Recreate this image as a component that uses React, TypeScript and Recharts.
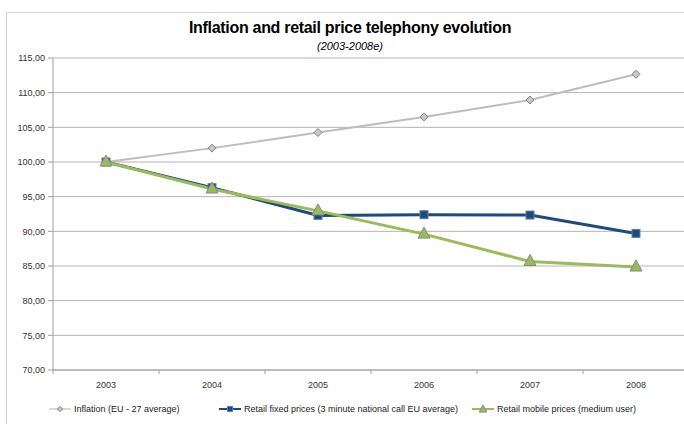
import React from 'react';
import { LineChart, Line, XAxis, YAxis, CartesianGrid } from 'recharts';

const YEARS = ['2003', '2004', '2005', '2006', '2007', '2008'];
const INFLATION = [100.0, 102.0, 104.25, 106.5, 108.95, 112.65];
const FIXED = [100.0, 96.3, 92.3, 92.4, 92.35, 89.7];
const MOBILE = [100.0, 96.1, 92.95, 89.6, 85.65, 84.85];
const Y_TICKS = [70, 75, 80, 85, 90, 95, 100, 105, 110, 115];

const TITLE = 'Inflation and retail price telephony evolution';
const SUBTITLE = '(2003-2008e)';

const SERIES = [
    { key: 'inflation', name: 'Inflation (EU - 27 average)', color: '#bdbdbd', width: 2, marker: 'diamond' },
    { key: 'fixed', name: 'Retail fixed prices (3 minute national call EU average)', color: '#1f4a7c', width: 3, marker: 'square' },
    { key: 'mobile', name: 'Retail mobile prices (medium user)', color: '#9bbb59', width: 3, marker: 'triangle' },
];

const data = YEARS.map((year, i) => ({
    year,
    inflation: INFLATION[i],
    fixed: FIXED[i],
    mobile: MOBILE[i],
}));

const FONT = '"Liberation Sans Narrow", "Liberation Sans", Arial, sans-serif';
const HALF_BAND = 53;

function Marker({ type, cx, cy, r = 1 }: { type: string; cx: number; cy: number; r?: number }) {
    if (type === 'diamond') {
        const d = 4 * r;
        return <polygon points={`${cx},${cy - d} ${cx + d},${cy} ${cx},${cy + d} ${cx - d},${cy}`} fill="#c8c8c8" stroke="#7f7f7f" strokeWidth={1} />;
    }
    if (type === 'square') {
        const d = 4 * r;
        return <rect x={cx - d} y={cy - d} width={2 * d} height={2 * d} fill="#1f4a7c" stroke="#5f7fa8" strokeWidth={1} />;
    }
    return <polygon points={`${cx},${cy - 7 * r} ${cx + 6 * r},${cy + 4 * r} ${cx - 6 * r},${cy + 4 * r}`} fill="#9bbb59" stroke="#8a8a8a" strokeWidth={1} />;
}

function makeDot(type: string) {
    return (props: any) => {
        if (props.cx == null || props.cy == null) return <g key={props.index} />;
        return <Marker key={props.index} type={type} cx={props.cx} cy={props.cy} />;
    };
}

function XTick(props: any) {
    const { x, y, payload } = props;
    return (
        <g>
            <line x1={x - HALF_BAND} y1={y - 8} x2={x - HALF_BAND} y2={y - 4} stroke="#a0a0a0" />
            <text x={x} y={y + 10} textAnchor="middle" fontSize={9} fill="#333" fontFamily={FONT}>
                {payload.value}
            </text>
        </g>
    );
}

function LegendIcon({ s }: { s: typeof SERIES[number] }) {
    return (
        <svg width={24} height={10} style={{ marginRight: 2 }}>
            <line x1={1} y1={5} x2={23} y2={5} stroke={s.color} strokeWidth={s.width === 3 ? 2 : 1.2} />
            <Marker type={s.marker} cx={12} cy={s.marker === 'triangle' ? 5.5 : 5} r={0.65} />
        </svg>
    );
}

export default function App() {
    const legendLeft = [42, 212, 465];
    return (
        <div style={{ position: 'fixed', left: 0, top: 0, width: 684, height: 424, overflow: 'hidden', background: '#fff' }}>
            <div
                style={{
                    position: 'absolute', left: 6, top: 12, width: 700, height: 430,
                    border: '1px solid #d4d4d4', boxSizing: 'border-box',
                }}
            />
            <div style={{ position: 'absolute', left: 0, top: 19, width: 700, textAlign: 'center', fontFamily: FONT, fontWeight: 'bold', fontSize: 16, color: '#000', letterSpacing: -0.3 }}>
                {TITLE}
            </div>
            <div style={{ position: 'absolute', left: 0, top: 40, width: 700, textAlign: 'center', fontFamily: FONT, fontStyle: 'italic', fontSize: 11, color: '#000' }}>
                {SUBTITLE}
            </div>
            <div style={{ position: 'absolute', left: 6, top: 12 }}>
                <LineChart width={700} height={400} data={data} margin={{ top: 46, right: 17, bottom: 12, left: 0 }}>
                    <CartesianGrid vertical={false} stroke="#b4b4b4" />
                    <XAxis
                        dataKey="year"
                        stroke="#a0a0a0"
                        tickLine={false}
                        tick={<XTick />}
                        height={30}
                        interval={0}
                        padding={{ left: HALF_BAND, right: HALF_BAND }}
                    />
                    <YAxis
                        domain={[70, 115]}
                        ticks={Y_TICKS}
                        tickFormatter={(v: number) => v.toFixed(2).replace('.', ',')}
                        stroke="#a0a0a0"
                        tickSize={5}
                        tickMargin={3}
                        width={47}
                        tick={{ fontSize: 9, fill: '#333', fontFamily: FONT }}
                        interval={0}
                    />
                    {SERIES.map((s) => (
                        <Line
                            key={s.key}
                            type="linear"
                            dataKey={s.key}
                            name={s.name}
                            stroke={s.color}
                            strokeWidth={s.width}
                            dot={makeDot(s.marker)}
                            activeDot={false}
                            isAnimationActive={false}
                        />
                    ))}
                </LineChart>
            </div>
            {SERIES.map((s, i) => (
                <div
                    key={s.key}
                    style={{
                        position: 'absolute', left: legendLeft[i] + 6, top: 404,
                        display: 'flex', alignItems: 'center', fontFamily: FONT, fontSize: 9, color: '#222', whiteSpace: 'nowrap',
                    }}
                >
                    <LegendIcon s={s} />
                    <span>{s.name}</span>
                </div>
            ))}
        </div>
    );
}
